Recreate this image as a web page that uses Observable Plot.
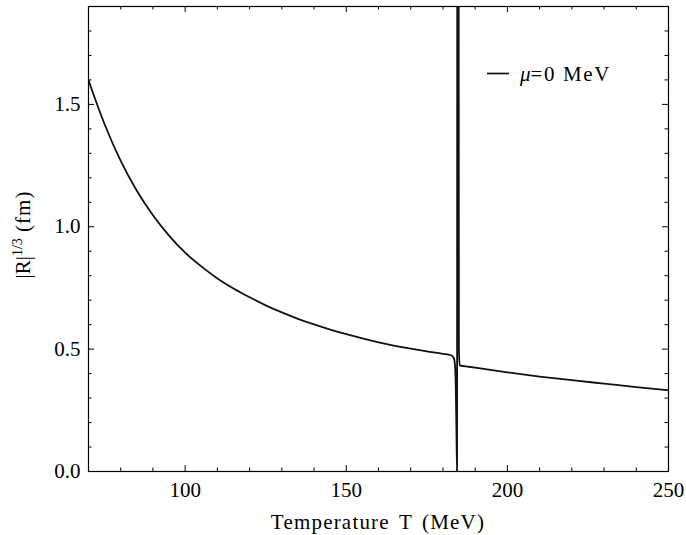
<!DOCTYPE html>
<html><head><meta charset="utf-8">
<script src="https://cdn.jsdelivr.net/npm/d3@7"></script>
<script src="https://cdn.jsdelivr.net/npm/@observablehq/plot@0.6"></script>
<style>body{margin:0;background:#fff}</style>
</head><body><div id="chart"></div>
<script>
// Temperature T (MeV)
const temperature = [70, 72, 75, 80, 85, 90, 95, 100, 105, 110, 115, 120, 125, 130, 135, 140, 145, 150, 160, 170, 175, 180, 182.5, 183.3, 183.7, 184.0, 184.2, 184.38, 184.45, 184.85, 184.95, 185.2, 188, 190, 200, 210, 220, 230, 240, 250];
// |R|^(1/3) (fm), mu = 0 MeV
const radius = [1.60, 1.524, 1.419, 1.269, 1.147, 1.047, 0.964, 0.894, 0.838, 0.789, 0.748, 0.712, 0.679, 0.650, 0.624, 0.601, 0.580, 0.561, 0.528, 0.502, 0.491, 0.481, 0.475, 0.466, 0.44, 0.33, 0.15, 0.0, 2.6, 2.6, 0.5, 0.434, 0.428, 0.424, 0.405, 0.388, 0.373, 0.359, 0.345, 0.332];

const xMajorTicks = [100, 150, 200, 250];
const xMinorTicks = [80, 90, 110, 120, 130, 140, 160, 170, 180, 190, 210, 220, 230, 240];
const yMajorTicks = [0.0, 0.5, 1.0, 1.5];
const yMinorTicks = [0.1, 0.2, 0.3, 0.4, 0.6, 0.7, 0.8, 0.9, 1.1, 1.2, 1.3, 1.4, 1.6, 1.7, 1.8];
const xLabel = "Temperature T (MeV)";
const yLabelMain = "|R|";
const yLabelSup = "1/3";
const yLabelUnit = " (fm)";
const legendMu = "μ";
const legendRest = "=0 MeV";

const data = temperature.map((t, i) => ({T: t, R: radius[i]}));

const W = 686, H = 535;
const mL = 88, mR = 18, mT = 6, mB = 64;
const fh = H - mT - mB, fw = W - mL - mR;
const font = '"Liberation Serif", serif';

const plot = Plot.plot({
  width: W, height: H,
  marginLeft: mL, marginRight: mR, marginTop: mT, marginBottom: mB,
  style: {fontFamily: font, fontSize: "21px"},
  x: {domain: [70, 250]},
  y: {domain: [0, 1.9]},
  marks: [
    Plot.line(data, {x: "T", y: "R", stroke: "#111", strokeWidth: 1.8, clip: true, curve: "monotone-x"}),
    Plot.tickX(xMajorTicks, {x: d => d, insetTop: fh - 6, stroke: "black"}),
    Plot.tickX(xMinorTicks, {x: d => d, insetTop: fh - 3.5, stroke: "black"}),
    Plot.tickX(xMajorTicks, {x: d => d, insetBottom: fh - 6, stroke: "black"}),
    Plot.tickX(xMinorTicks, {x: d => d, insetBottom: fh - 3.5, stroke: "black"}),
    Plot.tickY(yMajorTicks, {y: d => d, insetRight: fw - 6, stroke: "black"}),
    Plot.tickY(yMinorTicks, {y: d => d, insetRight: fw - 3.5, stroke: "black"}),
    Plot.tickY(yMajorTicks, {y: d => d, insetLeft: fw - 6, stroke: "black"}),
    Plot.tickY(yMinorTicks, {y: d => d, insetLeft: fw - 3.5, stroke: "black"}),
    Plot.axisX({ticks: xMajorTicks, tickSize: 0, tickPadding: 11, label: null, tickFormat: d3.format("d"), fontSize: 21}),
    Plot.axisY({ticks: yMajorTicks, tickSize: 0, tickPadding: 8, label: null, tickFormat: d3.format(".1f"), fontSize: 21}),
    Plot.frame({stroke: "black", strokeWidth: 1.2})
  ]
});

document.getElementById("chart").appendChild(plot);
const svg = d3.select(plot);
// x label
svg.append("text")
  .attr("x", (mL + W - mR) / 2).attr("y", 529)
  .attr("text-anchor", "middle")
  .style("font-family", font).attr("font-size", 21)
  .attr("letter-spacing", "1.2px").attr("word-spacing", "3px")
  .attr("fill", "black")
  .text(xLabel);
// y label
const yl = svg.append("text")
  .attr("transform", `translate(30,${(mT + H - mB) / 2 - 4}) rotate(-90)`)
  .attr("text-anchor", "middle")
  .style("font-family", font).attr("font-size", 21)
  .attr("fill", "black");
yl.append("tspan").text(yLabelMain);
yl.append("tspan").attr("dy", -8).attr("font-size", 14).text(yLabelSup);
yl.append("tspan").attr("dy", 8).attr("letter-spacing", "1px").text(yLabelUnit);
// legend
const lg = svg.append("g");
lg.append("line").attr("x1", 487).attr("x2", 509).attr("y1", 73.5).attr("y2", 73.5)
  .attr("stroke", "#111").attr("stroke-width", 1.7);
const lt = lg.append("text").attr("x", 520).attr("y", 81)
  .attr("text-anchor", "start")
  .style("font-family", font).attr("font-size", 21).attr("fill", "black");
lt.append("tspan").attr("font-style", "italic").text(legendMu);
lt.append("tspan").attr("letter-spacing", "1.6px").text(legendRest);
</script>
</body></html>
